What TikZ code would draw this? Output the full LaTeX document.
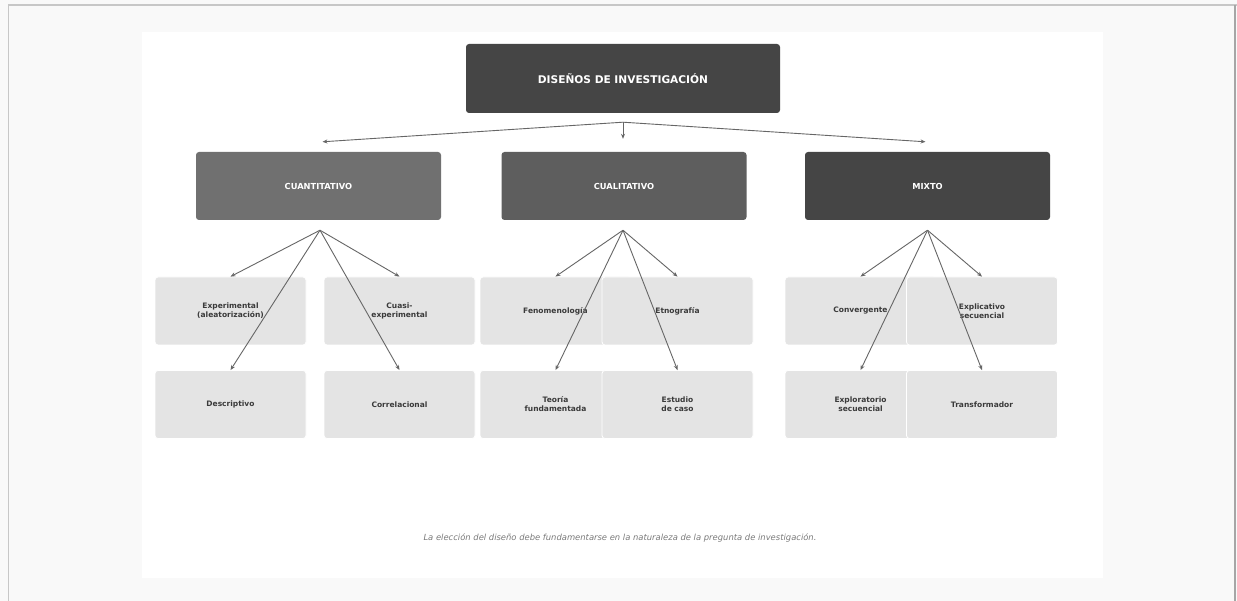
\documentclass[tikz,border=0pt]{standalone}
\usepackage{fontspec}
\setmainfont{DejaVu Sans}
\usepackage{xcolor}
\usetikzlibrary{arrows.meta,positioning}
\definecolor{pagebg}{HTML}{F9F9F9}
\definecolor{darkfill}{HTML}{454545}
\definecolor{quantfill}{HTML}{707070}
\definecolor{qualfill}{HTML}{5E5E5E}
\definecolor{leaffill}{HTML}{E4E4E4}
\definecolor{leaftext}{HTML}{3A3A3A}
\definecolor{arrgray}{HTML}{666666}
\definecolor{notegray}{HTML}{7A7A7A}

\begin{document}
\begin{tikzpicture}[x=1pt, y=-1pt,
  head/.style={rounded corners=3pt, inner sep=0pt, align=center, text=white,
               font=\bfseries\fontsize{8.3}{10}\selectfont,
               minimum width=245pt, minimum height=68pt},
  title/.style={head, fill=darkfill, minimum width=314pt, minimum height=69pt,
                font=\bfseries\fontsize{10.6}{12}\selectfont},
  leaf/.style={fill=leaffill, draw=white, line width=0.8pt, rounded corners=3pt,
               inner sep=0pt, align=center, text=leaftext,
               font=\bfseries\fontsize{7.5}{9}\selectfont,
               minimum width=151pt, minimum height=68pt},
  arr/.style={-{Stealth[length=5pt, width=4pt]}, draw=arrgray, line width=0.9pt}]
\useasboundingbox (0,0) rectangle (1237,601);
\fill[pagebg] (0,0) rectangle (1237,601);
\fill[white] (142,32) rectangle (1103,578);
\draw[color=black!22, line width=1.5pt] (8,5) -- (1237,5);
\draw[color=black!22, line width=1.5pt] (8.5,5) -- (8.5,601);
\draw[color=black!35, line width=2pt] (1234.5,5) -- (1234.5,601);
\node[title] (top) at (623,78.5) {DISEÑOS DE INVESTIGACIÓN};
\node[head, fill=quantfill] (quant) at (318.5,186) {CUANTITATIVO};
\node[head, fill=qualfill] (qual) at (624,186) {CUALITATIVO};
\node[head, fill=darkfill] (mixto) at (927.5,186) {MIXTO};
\node[leaf] (exp) at (230.5,311) {Experimental\\(aleatorización)};
\node[leaf] (cuasi) at (399.5,311) {Cuasi-\\experimental};
\node[leaf] (desc) at (230.5,404.5) {Descriptivo};
\node[leaf] (corr) at (399.5,404.5) {Correlacional};
\node[leaf] (feno) at (555.5,311) {Fenomenología};
\node[leaf] (etno) at (677.5,311) {Etnografía};
\node[leaf] (teoria) at (555.5,404.5) {Teoría\\fundamentada};
\node[leaf] (caso) at (677.5,404.5) {Estudio\\de caso};
\node[leaf] (conv) at (860.5,311) {Convergente};
\node[leaf] (expl) at (982,311) {Explicativo\\secuencial};
\node[leaf] (explo) at (860.5,404.5) {Exploratorio\\secuencial};
\node[leaf] (transf) at (982,404.5) {Transformador};
\coordinate (topfork) at ([yshift=-9pt]top.south);
\coordinate (quantin) at ([yshift=10pt, xshift=4pt]quant.north);
\coordinate (qualin) at ([yshift=13pt, xshift=-1pt]qual.north);
\coordinate (mixtoin) at ([yshift=10pt, xshift=-2pt]mixto.north);
\coordinate (quantfork) at ([yshift=-10pt, xshift=1.5pt]quant.south);
\coordinate (qualfork) at ([yshift=-10pt, xshift=-1pt]qual.south);
\coordinate (mixtofork) at ([yshift=-10pt]mixto.south);
\draw[arr] (topfork) -- (quantin);
\draw[arr] (topfork) -- (qualin);
\draw[arr] (topfork) -- (mixtoin);
\draw[arr] (quantfork) -- (exp.north);
\draw[arr] (quantfork) -- (cuasi.north);
\draw[arr] (quantfork) -- (desc.north);
\draw[arr] (quantfork) -- (corr.north);
\draw[arr] (qualfork) -- (feno.north);
\draw[arr] (qualfork) -- (etno.north);
\draw[arr] (qualfork) -- (teoria.north);
\draw[arr] (qualfork) -- (caso.north);
\draw[arr] (mixtofork) -- (conv.north);
\draw[arr] (mixtofork) -- (expl.north);
\draw[arr] (mixtofork) -- (explo.north);
\draw[arr] (mixtofork) -- (transf.north);
\node[font=\itshape\fontsize{8.4}{10}\selectfont, text=notegray] (note) at (620,538)
  {La elección del diseño debe fundamentarse en la naturaleza de la pregunta de investigación.};
\end{tikzpicture}
\end{document}
